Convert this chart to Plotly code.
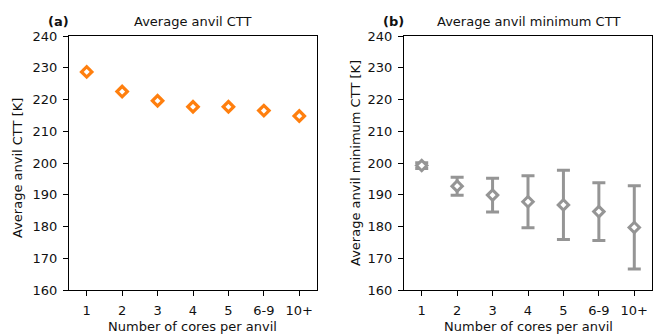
import plotly.graph_objects as go

W, H = 653, 334

categories = ["1", "2", "3", "4", "5", "6-9", "10+"]
avg_ctt = [228.7, 222.5, 219.6, 217.7, 217.7, 216.5, 214.8]
avg_ctt_err = [0.5, 0.5, 0.5, 0.5, 0.5, 0.5, 0.5]
min_ctt = [199.2, 192.7, 189.9, 187.8, 186.8, 184.7, 179.7]
min_ctt_err = [0.9, 2.85, 5.3, 8.2, 10.9, 9.1, 13.1]
y_ticks = [160, 170, 180, 190, 200, 210, 220, 230, 240]

ORANGE = "#ff7f0e"
GREY = "#959595"
FONT = "DejaVu Sans"
FS = 13

def px(x):
    return x / W

def py(y):
    return 1 - y / H

fig = go.Figure()
fig.add_trace(go.Scatter(
    x=categories, y=avg_ctt, mode="markers", xaxis="x", yaxis="y",
    marker=dict(symbol="diamond", size=8, color="white", line=dict(color=ORANGE, width=3.2)),
    error_y=dict(type="data", array=avg_ctt_err, color=ORANGE, thickness=3, width=4),
    showlegend=False,
))
fig.add_trace(go.Scatter(
    x=categories, y=min_ctt, mode="markers", xaxis="x2", yaxis="y2",
    marker=dict(symbol="diamond", size=8, color="white", line=dict(color=GREY, width=3)),
    error_y=dict(type="data", array=min_ctt_err, color=GREY, thickness=3, width=6.5),
    showlegend=False,
))

axis_common = dict(
    showline=True, linecolor="black", linewidth=1.3, mirror=True,
    ticks="outside", ticklen=5, tickwidth=1.2, tickcolor="black",
    showgrid=False, zeroline=False, automargin=False,
    tickfont=dict(family=FONT, size=FS, color="#111"),
)
xdom1 = [px(69), px(317)]
xdom2 = [px(404), px(652)]
ydom = [py(290), py(36)]

fig.update_layout(
    width=W, height=H, margin=dict(l=0, r=0, t=0, b=0, autoexpand=False),
    paper_bgcolor="white", plot_bgcolor="white",
    font=dict(family=FONT, size=FS, color="#111"),
    xaxis=dict(domain=xdom1, anchor="y", type="category", range=[-0.5, 6.5],
               ticklabelstandoff=3, **axis_common),
    yaxis=dict(domain=ydom, anchor="x", range=[160, 240], tickvals=y_ticks,
               ticklabelstandoff=3, **axis_common),
    xaxis2=dict(domain=xdom2, anchor="y2", type="category", range=[-0.5, 6.5],
                ticklabelstandoff=3, **axis_common),
    yaxis2=dict(domain=ydom, anchor="x2", range=[160, 240], tickvals=y_ticks,
                ticklabelstandoff=3, **axis_common),
)

ann = []
def text(x, y, s, **kw):
    d = dict(x=px(x), y=py(y), xref="paper", yref="paper", text=s, showarrow=False,
             xanchor="center", yanchor="middle", font=dict(family=FONT, size=FS, color="#111"))
    d.update(kw)
    ann.append(d)

text(58, 21, "<b>(a)</b>")
text(193, 21, "Average anvil CTT")
text(393, 21, "<b>(b)</b>")
text(528, 21, "Average anvil minimum CTT")
text(193, 326, "Number of cores per anvil")
text(528, 326, "Number of cores per anvil")
text(17, 168, "Average anvil CTT [K]", textangle=-90)
text(355, 163, "Average anvil minimum CTT [K]", textangle=-90)
fig.update_layout(annotations=ann)

fig.write_html("out.html")
